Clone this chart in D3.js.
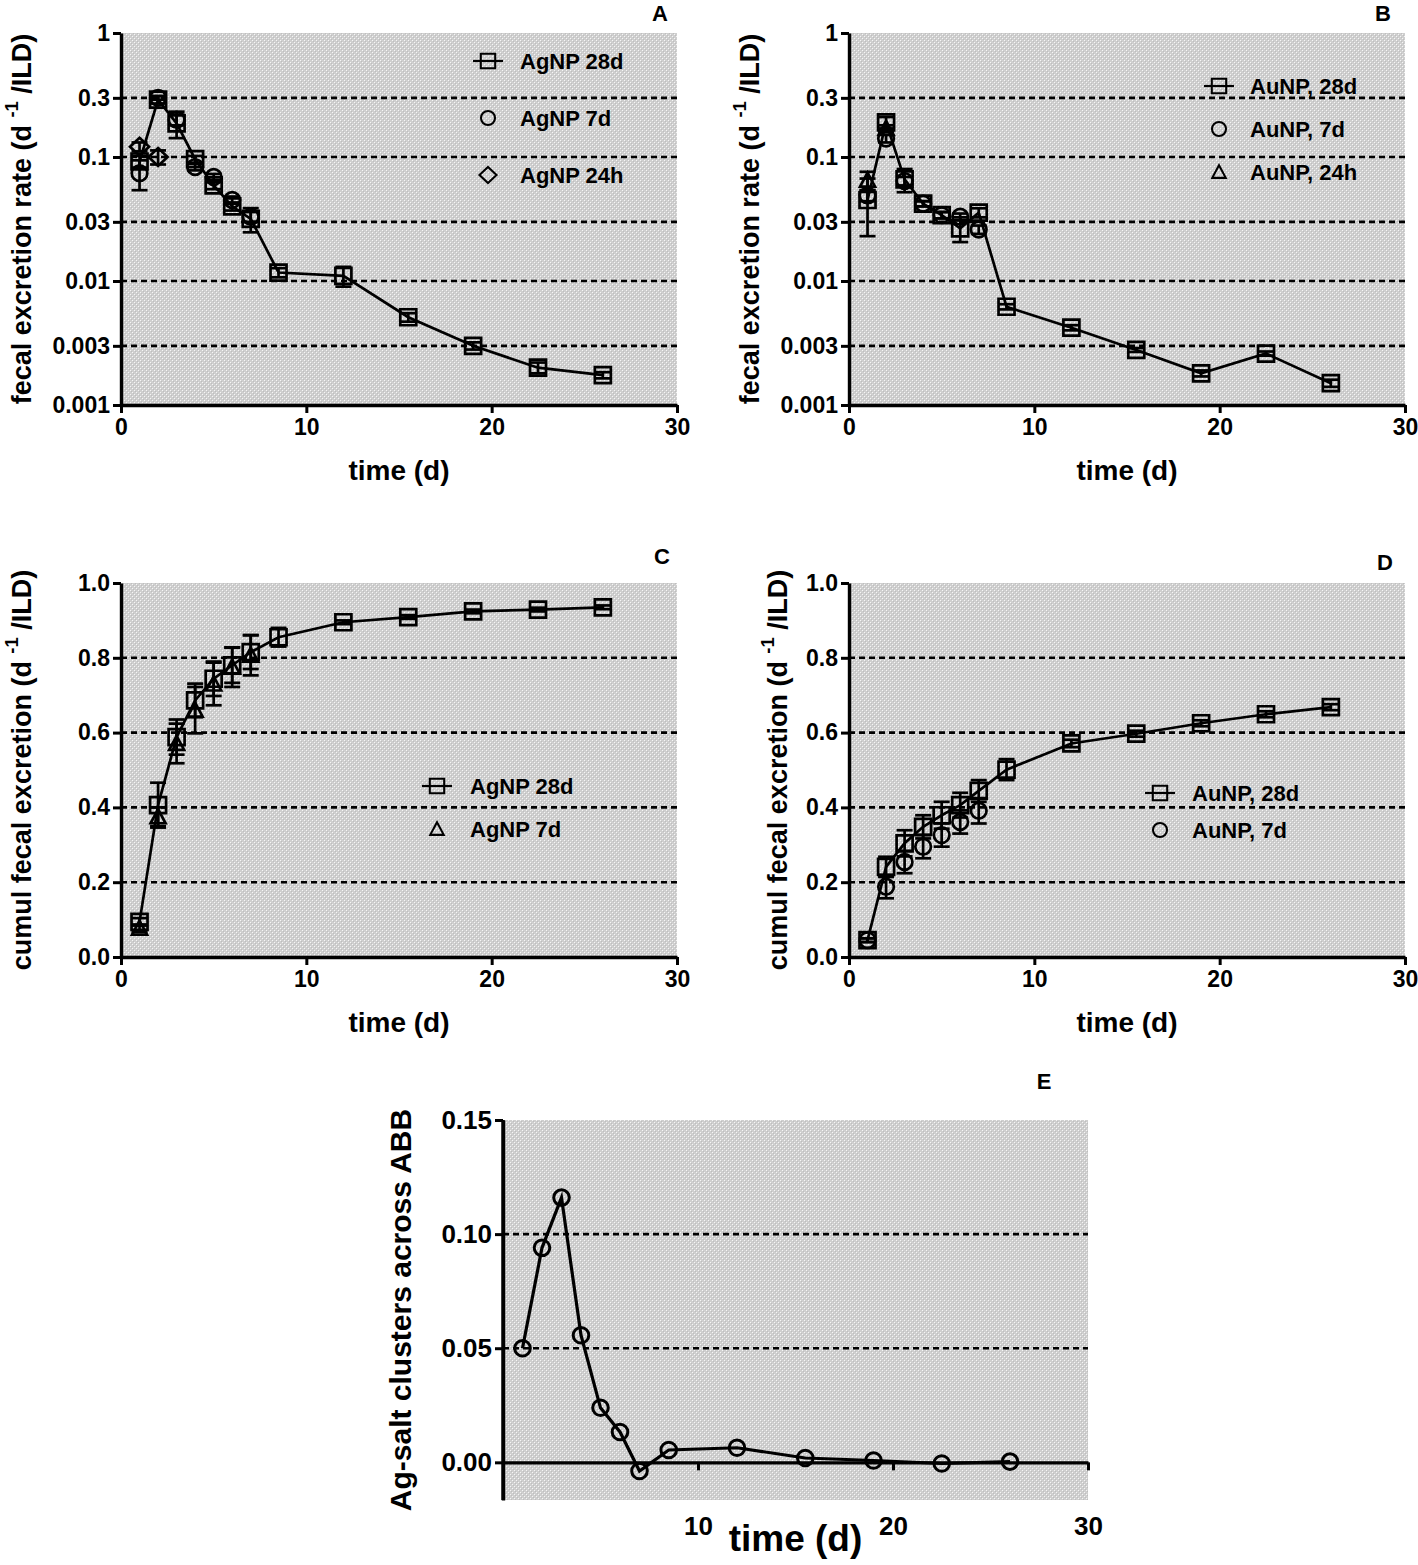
<!DOCTYPE html>
<html><head><meta charset="utf-8">
<script src="https://cdn.jsdelivr.net/npm/d3@7"></script>
<style>
body{margin:0;background:#fff}
svg text{font-family:"Liberation Sans",Arial,sans-serif;font-weight:bold;fill:#000}
</style>
</head><body>
<svg id="chart" width="1418" height="1565"></svg>
<script>
// ---------- DATA ----------
const time28 = [1, 2, 3, 4, 5, 6, 7, 8.5, 12, 15.5, 19, 22.5, 26];
const time7 = [1, 2, 3, 4, 5, 6, 7];
const time24 = [1, 2];

// Panel A: AgNP fecal excretion rate
const agRate28 = [0.092, 0.29, 0.187, 0.096, 0.059, 0.040, 0.0317, 0.0117, 0.011, 0.0051, 0.0030, 0.0020, 0.00174];
const agRate28Err = [0.01, 0.02, 0.045, 0.006, 0.004, 0.003, 0.007, 0.001, 0.002, 0.0004, 0.0002, 0.0002, 0.0001];
const agRate7 = [0.074, 0.30, 0.20, 0.083, 0.069, 0.045, 0.033];
const agRate7Err = [0.02, 0.01, 0.02, 0.005, 0.004, 0.003, 0.003];
const agRate24 = [0.121, 0.10];
const agRate24Err = [0.01, 0.013];

// Panel B: AuNP fecal excretion rate
const auRate28 = [0.045, 0.19, 0.066, 0.042, 0.034, 0.0266, 0.0356, 0.0062, 0.0042, 0.00278, 0.0018, 0.0026, 0.0015];
const auRate28Err = [0.022, 0.02, 0.014, 0.002, 0.002, 0.006, 0.003, 0.0003, 0.0002, 0.0001, 0.0001, 0.0001, 0.0001];
const auRate7 = [0.049, 0.141, 0.064, 0.042, 0.034, 0.033, 0.026];
const auRate7Err = [0.005, 0.01, 0.005, 0.002, 0.002, 0.002, 0.002];
const auRate24 = [0.065, 0.17];
const auRate24Err = [0.011, 0.01];

// Panel C: AgNP cumulative fecal excretion
const agCum28 = [0.094, 0.406, 0.588, 0.686, 0.744, 0.78, 0.815, 0.855, 0.895, 0.909, 0.924, 0.929, 0.935];
const agCum28Err = [0.01, 0.06, 0.047, 0.045, 0.046, 0.047, 0.045, 0.025, 0.005, 0.005, 0.005, 0.005, 0.005];
const agCum7 = [0.077, 0.375, 0.571, 0.66, 0.73, 0.775, 0.807];
const agCum7Err = [0.01, 0.025, 0.053, 0.062, 0.057, 0.053, 0.054];

// Panel D: AuNP cumulative fecal excretion
const auCum28 = [0.045, 0.241, 0.304, 0.348, 0.379, 0.406, 0.444, 0.501, 0.571, 0.597, 0.625, 0.649, 0.668];
const auCum28Err = [0.005, 0.027, 0.035, 0.031, 0.036, 0.033, 0.029, 0.028, 0.01, 0.008, 0.008, 0.008, 0.008];
const auCum7 = [0.045, 0.188, 0.254, 0.295, 0.326, 0.361, 0.391];
const auCum7Err = [0.005, 0.031, 0.03, 0.031, 0.031, 0.031, 0.034];

// Panel E: Ag-salt clusters across ABB
const timeE = [1, 2, 3, 4, 5, 6, 7, 8.5, 12, 15.5, 19, 22.5, 26];
const agSaltE = [0.050, 0.094, 0.116, 0.0557, 0.0239, 0.0133, -0.0038, 0.0054, 0.0064, 0.0019, 0.0008, -0.0005, 0.0003];

// Ticks
const xTicks = [0, 10, 20, 30];
const xTickLabels = ["0", "10", "20", "30"];
const xTicksE = [10, 20, 30];
const xTickLabelsE = ["10", "20", "30"];
const rateTicks = [0.001, 0.003, 0.01, 0.03, 0.1, 0.3, 1];
const rateTickLabels = ["0.001", "0.003", "0.01", "0.03", "0.1", "0.3", "1"];
const rateGrid = [0.003, 0.01, 0.03, 0.1, 0.3];
const cumTicks = [0, 0.2, 0.4, 0.6, 0.8, 1.0];
const cumTickLabels = ["0.0", "0.2", "0.4", "0.6", "0.8", "1.0"];
const cumGrid = [0.2, 0.4, 0.6, 0.8];
const eTicks = [0, 0.05, 0.10, 0.15];
const eTickLabels = ["0.00", "0.05", "0.10", "0.15"];
const eGrid = [0.05, 0.10];

// ---------- DRAWING ----------
const svg = d3.select("#chart");
const defs = svg.append("defs");
const pat = defs.append("pattern").attr("id", "stip").attr("width", 4).attr("height", 4)
  .attr("patternUnits", "userSpaceOnUse");
pat.append("rect").attr("width", 4).attr("height", 4).attr("fill", "#cfcfcf");
pat.append("rect").attr("x", 0).attr("y", 0).attr("width", 1).attr("height", 1).attr("fill", "#f6f6f6");
pat.append("rect").attr("x", 2).attr("y", 2).attr("width", 1).attr("height", 1).attr("fill", "#f6f6f6");
pat.append("rect").attr("x", 1).attr("y", 1).attr("width", 1).attr("height", 1).attr("fill", "#bebebe");
pat.append("rect").attr("x", 3).attr("y", 3).attr("width", 1).attr("height", 1).attr("fill", "#bebebe");

function markerPath(type) {
  switch (type) {
    case "square": return "M-8,-8H8V8H-8Z";
    case "circle": return "M7.8,0A7.8,7.8 0 1,1 -7.8,0A7.8,7.8 0 1,1 7.8,0Z";
    case "diamond": return "M0,-9L9.5,0L0,9L-9.5,0Z";
    case "triangle": return "M0,-7.5L7.5,6.5H-7.5Z";
  }
}

const SW = 2.7;

function drawPanel(p) {
  const g = svg.append("g");
  const x = d3.scaleLinear().domain([0, 30]).range([p.x0, p.x1]);
  const y = p.log ? d3.scaleLog().domain(p.ydom).range([p.y1, p.y0])
                  : d3.scaleLinear().domain(p.ydom).range([p.y1, p.y0]);
  g.append("rect").attr("x", p.x0).attr("y", p.y0).attr("width", p.x1 - p.x0).attr("height", p.y1 - p.y0)
    .attr("fill", "url(#stip)");
  g.selectAll(".grid").data(p.grid).enter().append("line")
    .attr("x1", p.x0).attr("x2", p.x1).attr("y1", d => y(d)).attr("y2", d => y(d))
    .attr("stroke", "#000").attr("stroke-width", 2.6).attr("stroke-dasharray", "6,4");

  const yAxisG = g.append("g").attr("transform", `translate(${p.x0},0)`)
    .call(d3.axisLeft(y).tickValues(p.yticks).tickFormat((d, i) => p.ylabels[i]).tickSize(8).tickSizeOuter(0).tickPadding(3));
  const xAxisY = p.xAxisAtZero ? y(0) : p.y1;
  const xAxisG = g.append("g").attr("transform", `translate(0,${xAxisY})`)
    .call(d3.axisBottom(x).tickValues(p.xticks).tickFormat((d, i) => p.xlabels[i]).tickSize(8).tickSizeOuter(0).tickPadding(p.xPad || 6));
  [yAxisG, xAxisG].forEach(a => {
    a.select(".domain").attr("stroke", "#000").attr("stroke-width", 3.4);
    a.selectAll(".tick line").attr("stroke", "#000").attr("stroke-width", 3);
    a.selectAll(".tick text").attr("font-size", p.tickFont).attr("fill", "#000")
      .attr("font-family", '"Liberation Sans",Arial,sans-serif').attr("font-weight", "bold");
  });
  if (p.xAxisAtZero) {
    g.append("line").attr("x1", p.x0).attr("x2", p.x0).attr("y1", p.y0).attr("y2", p.y1)
      .attr("stroke", "#000").attr("stroke-width", 3.4);
  }

  p.series.forEach(s => {
    const pts = s.t.map((t, i) => ({ t, v: s.v[i], e: s.e ? s.e[i] : 0 }));
    if (s.line) {
      g.append("path").datum(pts).attr("fill", "none").attr("stroke", "#000").attr("stroke-width", p.lineW || SW)
        .attr("d", d3.line().x(d => x(d.t)).y(d => y(d.v)));
    }
    pts.forEach(d => {
      if (!d.e) return;
      const top = y(d.v + d.e);
      const lowV = p.log ? Math.max(d.v - d.e, p.ydom[0] * 1.01) : d.v - d.e;
      const bot = y(lowV);
      const cx = x(d.t);
      g.append("line").attr("x1", cx).attr("x2", cx).attr("y1", top).attr("y2", bot)
        .attr("stroke", "#000").attr("stroke-width", SW);
      [top, bot].forEach(yy => g.append("line").attr("x1", cx - 8).attr("x2", cx + 8).attr("y1", yy).attr("y2", yy)
        .attr("stroke", "#000").attr("stroke-width", SW));
    });
    g.selectAll(null).data(pts).enter().append("path")
      .attr("d", markerPath(s.marker))
      .attr("transform", d => `translate(${x(d.t)},${y(d.v)})`)
      .attr("fill", "none").attr("stroke", "#000").attr("stroke-width", p.markW || SW);
  });

  if (p.legend) {
    p.legend.items.forEach((it, i) => {
      const ly = p.legend.y[i];
      if (it.line) {
        g.append("line").attr("x1", p.legend.x - 15).attr("x2", p.legend.x + 15).attr("y1", ly).attr("y2", ly)
          .attr("stroke", "#000").attr("stroke-width", 2.2);
      }
      g.append("path").attr("d", markerPath(it.marker)).attr("transform", `translate(${p.legend.x},${ly}) scale(0.9)`)
        .attr("fill", "none").attr("stroke", "#000").attr("stroke-width", 2.3);
      g.append("text").attr("x", p.legend.tx).attr("y", ly).attr("dy", "0.36em")
        .attr("font-size", 22).text(it.label);
    });
  }

  g.append("text").attr("x", p.letter[0]).attr("y", p.letter[1]).attr("text-anchor", "middle").attr("dy", "0.36em")
    .attr("font-size", 22).text(p.id);

  g.append("text").attr("x", (p.x0 + p.x1) / 2).attr("y", p.xTitleY).attr("text-anchor", "middle").attr("dy", "0.36em")
    .attr("font-size", p.xTitleFont).text("time (d)");
  const yt = g.append("text").attr("text-anchor", "middle").attr("dy", "0.36em")
    .attr("font-size", p.yTitleFont)
    .attr("transform", `translate(${p.yTitleX},${(p.y0 + p.y1) / 2}) rotate(-90)`);
  if (p.ySup) {
    yt.append("tspan").text(p.yTitle);
    yt.append("tspan").attr("font-size", "0.68em").attr("dy", "-0.7em").text(p.ySup);
    yt.append("tspan").attr("dy", "0.48em").text(p.yTitleEnd);
  } else {
    yt.text(p.yTitle);
  }
}

const rateCommon = { log: true, ydom: [0.001, 1], yticks: rateTicks, ylabels: rateTickLabels, grid: rateGrid,
  xticks: xTicks, xlabels: xTickLabels, tickFont: 23, xTitleFont: 28, yTitleFont: 27,
  yTitle: "fecal excretion rate (d ", ySup: "-1", yTitleEnd: " /ILD)" };
const cumCommon = { log: false, ydom: [0, 1], yticks: cumTicks, ylabels: cumTickLabels, grid: cumGrid,
  xticks: xTicks, xlabels: xTickLabels, tickFont: 23, xTitleFont: 28, yTitleFont: 27,
  yTitle: "cumul fecal excretion (d ", ySup: "-1", yTitleEnd: " /ILD)" };

drawPanel(Object.assign({}, rateCommon, {
  id: "A", x0: 121, x1: 677, y0: 33, y1: 405, letter: [660, 13], xTitleY: 470, yTitleX: 21,
  series: [
    { t: time28, v: agRate28, e: agRate28Err, marker: "square", line: true },
    { t: time7, v: agRate7, e: agRate7Err, marker: "circle" },
    { t: time24, v: agRate24, e: agRate24Err, marker: "diamond" }
  ],
  legend: { x: 488, tx: 520, y: [61, 118, 175], items: [
    { marker: "square", line: true, label: "AgNP 28d" },
    { marker: "circle", label: "AgNP 7d" },
    { marker: "diamond", label: "AgNP 24h" }] }
}));

drawPanel(Object.assign({}, rateCommon, {
  id: "B", x0: 849, x1: 1405, y0: 33, y1: 405, letter: [1383, 13], xTitleY: 470, yTitleX: 749,
  series: [
    { t: time28, v: auRate28, e: auRate28Err, marker: "square", line: true },
    { t: time7, v: auRate7, e: auRate7Err, marker: "circle" },
    { t: time24, v: auRate24, e: auRate24Err, marker: "triangle" }
  ],
  legend: { x: 1219, tx: 1250, y: [86, 129, 172], items: [
    { marker: "square", line: true, label: "AuNP, 28d" },
    { marker: "circle", label: "AuNP, 7d" },
    { marker: "triangle", label: "AuNP, 24h" }] }
}));

drawPanel(Object.assign({}, cumCommon, {
  id: "C", x0: 121, x1: 677, y0: 583, y1: 957, letter: [662, 556], xTitleY: 1022, yTitleX: 21,
  series: [
    { t: time28, v: agCum28, e: agCum28Err, marker: "square", line: true },
    { t: time7, v: agCum7, e: agCum7Err, marker: "triangle" }
  ],
  legend: { x: 437, tx: 470, y: [786, 829], items: [
    { marker: "square", line: true, label: "AgNP 28d" },
    { marker: "triangle", label: "AgNP 7d" }] }
}));

drawPanel(Object.assign({}, cumCommon, {
  id: "D", x0: 849, x1: 1405, y0: 583, y1: 957, letter: [1385, 562], xTitleY: 1022, yTitleX: 777,
  series: [
    { t: time28, v: auCum28, e: auCum28Err, marker: "square", line: true },
    { t: time7, v: auCum7, e: auCum7Err, marker: "circle" }
  ],
  legend: { x: 1160, tx: 1192, y: [793, 830], items: [
    { marker: "square", line: true, label: "AuNP, 28d" },
    { marker: "circle", label: "AuNP, 7d" }] }
}));

drawPanel({
  id: "E", log: false, x0: 503, x1: 1088, y0: 1120, y1: 1500, ydom: [-0.0165, 0.15],
  yticks: eTicks, ylabels: eTickLabels, grid: eGrid, xticks: xTicksE, xlabels: xTickLabelsE,
  xAxisAtZero: true, xPad: 46, tickFont: 26, xTitleFont: 37, yTitleFont: 30, lineW: 3.2, markW: 3,
  letter: [1044, 1081], xTitleY: 1538, yTitleX: 400,
  yTitle: "Ag-salt clusters across ABB",
  series: [{ t: timeE, v: agSaltE, marker: "circle", line: true }]
});
</script>
</body></html>
